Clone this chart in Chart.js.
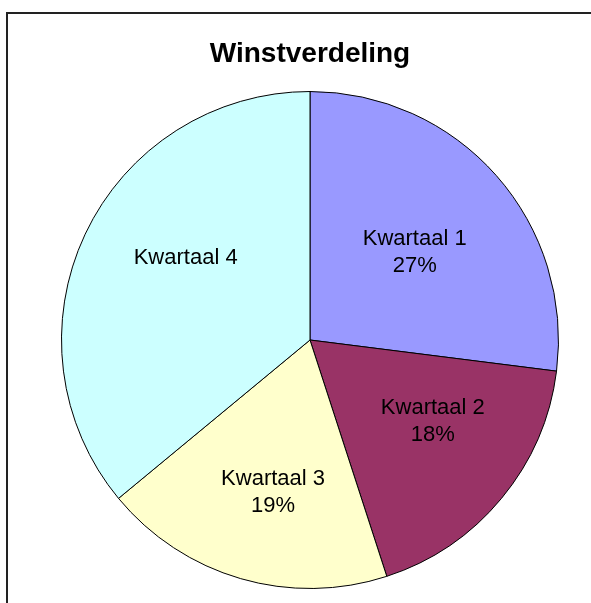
<!DOCTYPE html>
<html>
<head>
<meta charset="utf-8">
<script src="https://cdn.jsdelivr.net/npm/chart.js@4"></script>
<style>
  html, body { margin: 0; padding: 0; background: #fff; }
  canvas { display: block; }
</style>
</head>
<body>
<canvas id="pieChart" width="591" height="603"></canvas>
<script>
// Gegevens van de grafiek
const titel = "Winstverdeling";
const kwartalen = ["Kwartaal 1", "Kwartaal 2", "Kwartaal 3", "Kwartaal 4"];
const winst = [27, 18, 19, 36]; // procenten
const toonProcent = [true, true, true, false];
const kleuren = ["#9999FF", "#993366", "#FFFFCC", "#CCFFFF"];

// Kader en titel tekenen
const kaderPlugin = {
  id: "kader",
  beforeDraw(chart) {
    const ctx = chart.ctx;
    ctx.save();
    ctx.fillStyle = "#fff";
    ctx.fillRect(0, 0, chart.width, chart.height);
    ctx.strokeStyle = "#222";
    ctx.lineWidth = 2;
    ctx.beginPath();
    ctx.moveTo(7, chart.height);
    ctx.lineTo(7, 13);
    ctx.lineTo(chart.width, 13);
    ctx.stroke();
    ctx.restore();
  },
  afterDraw(chart) {
    const ctx = chart.ctx;
    ctx.save();
    ctx.fillStyle = "#000";
    ctx.font = "bold 28px 'Liberation Sans', Arial, sans-serif";
    ctx.textAlign = "center";
    ctx.textBaseline = "alphabetic";
    ctx.fillText(titel, 310, 62);
    ctx.restore();
  },
};

// Labels in de taartpunten (afstand als deel van de straal, hoek-correctie in graden)
const labelPlugin = {
  id: "taartLabels",
  afterDatasetsDraw(chart, args, opts) {
    const ctx = chart.ctx;
    const meta = chart.getDatasetMeta(0);
    const total = winst.reduce((a, b) => a + b, 0);
    ctx.save();
    ctx.font = "22px 'Liberation Sans', Arial, sans-serif";
    ctx.fillStyle = "#000";
    ctx.textAlign = "center";
    ctx.textBaseline = "middle";
    meta.data.forEach((arc, i) => {
      const p = arc.getProps(["x", "y", "startAngle", "endAngle", "outerRadius"], true);
      const mid = (p.startAngle + p.endAngle) / 2 + (opts.hoek[i] * Math.PI) / 180;
      const r = p.outerRadius * opts.afstand[i];
      const cx = p.x + Math.cos(mid) * r;
      const cy = p.y + Math.sin(mid) * r;
      const regels = [kwartalen[i]];
      if (toonProcent[i]) regels.push(Math.round((winst[i] / total) * 100) + "%");
      const lh = 27;
      regels.forEach((t, j) => {
        ctx.fillText(t, cx, cy + (j - (regels.length - 1) / 2) * lh);
      });
    });
    ctx.restore();
  },
};

const ctx = document.getElementById("pieChart").getContext("2d");
new Chart(ctx, {
  type: "pie",
  data: {
    labels: kwartalen,
    datasets: [
      {
        data: winst,
        backgroundColor: kleuren,
        borderColor: "#000",
        borderWidth: 1,
      },
    ],
  },
  options: {
    responsive: false,
    animation: false,
    events: [],
    layout: {
      padding: { left: 61, right: 32, top: 91, bottom: 14 },
    },
    plugins: {
      legend: { display: false },
      title: { display: false },
      tooltip: { enabled: false },
      taartLabels: {
        afstand: [0.55, 0.594, 0.632, 0.6],
        hoek: [1.4, -5.9, -2.6, 8.3],
      },
    },
  },
  plugins: [kaderPlugin, labelPlugin],
});
</script>
</body>
</html>
